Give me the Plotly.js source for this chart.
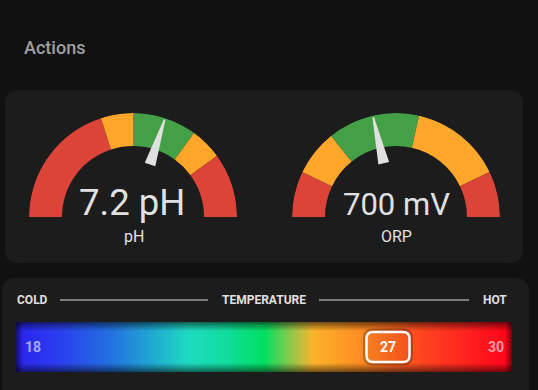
<!DOCTYPE html>
<html>
<head>
<meta charset="utf-8">
<script src="https://cdn.plot.ly/plotly-3.0.1.min.js"></script>
<style>
  html, body { margin: 0; padding: 0; background: #111111; }
  #chart { width: 538px; height: 390px; }
</style>
</head>
<body>
<div id="chart"></div>
<script>
// ---------------- data ----------------
const sectionTitle = 'Actions';

const phStops  = [6.0, 6.8, 7.0, 7.4, 7.6, 8.0];
const phColors = ['#db4437', '#ffa62b', '#43a047', '#ffa62b', '#db4437'];
const phValue  = 7.2;
const phUnit   = 'pH';
const phName   = 'pH';

const orpStops  = [400, 500, 600, 800, 1000, 1100];
const orpColors = ['#db4437', '#ffa62b', '#43a047', '#ffa62b', '#db4437'];
const orpValue  = 700;
const orpUnit   = 'mV';
const orpName   = 'ORP';

const tempMin   = 18;
const tempMax   = 30;
const tempValue = 27;
const tempLabels = ['COLD', 'TEMPERATURE', 'HOT'];
const tempGradPos    = [0, 0.08, 0.19, 0.27, 0.35, 0.42, 0.50, 0.555, 0.60, 0.70, 0.82, 0.92, 1.0];
const tempGradColors = ['#2b22ee', '#2b3cf0', '#2270e0', '#20a6d2', '#1edcc0', '#12dca0', '#00e060',
                        '#90c84a', '#fcb22a', '#ff8a22', '#ff4420', '#ff1e1e', '#ff0018'];

// ---------------- helpers ----------------
const FONT = 'Roboto, "Noto Sans", sans-serif';
const TXT = '#e1e1e1';
const R_OUT = 104, R_IN = 71;

function gaugeTraces(stops, colors, value, polar) {
  const min = stops[0], max = stops[stops.length - 1];
  const toTheta = v => (v - min) / (max - min) * 180;
  const theta = [], width = [], r = [];
  for (let i = 0; i < colors.length; i++) {
    const a = toTheta(stops[i]), b = toTheta(stops[i + 1]);
    theta.push((a + b) / 2); width.push(b - a); r.push(R_OUT - R_IN);
  }
  const t = toTheta(value);
  return [
    { type: 'barpolar', subplot: polar, theta: theta, r: r, width: width, base: R_IN,
      marker: { color: colors, line: { width: 0 } }, hoverinfo: 'skip', showlegend: false },
    { type: 'scatterpolar', subplot: polar, mode: 'lines', fill: 'toself',
      r: [55.4, 102.5, 102.5, 55.4, 55.4], theta: [t - 5.7, t - 0.45, t + 0.45, t + 5.7, t - 5.7],
      fillcolor: '#e0e0e0', line: { width: 0, color: '#e0e0e0' }, hoverinfo: 'skip', showlegend: false }
  ];
}

function polarLayout(cx) {
  return {
    domain: { x: [(cx - R_OUT) / 538, (cx + R_OUT) / 538], y: [(390 - 217) / 390, (390 - 217 + R_OUT) / 390] },
    sector: [0, 180], hole: 0, bgcolor: 'rgba(0,0,0,0)',
    radialaxis: { visible: false, range: [0, R_OUT] },
    angularaxis: { visible: false, rotation: 180, direction: 'clockwise' }
  };
}

function rrect(x0, y0, x1, y1, r) {
  return `M${x0 + r},${y0} L${x1 - r},${y0} Q${x1},${y0} ${x1},${y0 + r} L${x1},${y1 - r} Q${x1},${y1} ${x1 - r},${y1}` +
         ` L${x0 + r},${y1} Q${x0},${y1} ${x0},${y1 - r} L${x0},${y0 + r} Q${x0},${y0} ${x0 + r},${y0} Z`;
}

// ---------------- traces ----------------
const data = [];
data.push({ type: 'scatter', x: [], y: [], xaxis: 'x', yaxis: 'y', hoverinfo: 'skip', showlegend: false });
data.push(...gaugeTraces(phStops, phColors, phValue, 'polar'));
data.push(...gaugeTraces(orpStops, orpColors, orpValue, 'polar2'));

const colorscale = tempGradPos.map((p, i) => [p, tempGradColors[i]]);
data.push({ type: 'scatter', xaxis: 'x2', yaxis: 'y2', mode: 'lines', fill: 'toself',
  x: [tempMin, tempMax, tempMax, tempMin, tempMin], y: [0, 0, 1, 1, 0],
  line: { width: 0 }, fillgradient: { type: 'horizontal', colorscale: colorscale },
  hoverinfo: 'skip', showlegend: false });

// inner shadow of the bar
const span = tempMax - tempMin;
const sh = (x, y, type, cs) => ({ type: 'scatter', xaxis: 'x2', yaxis: 'y2', mode: 'lines', fill: 'toself',
  x: x, y: y, line: { width: 0 }, fillgradient: { type: type, colorscale: cs }, hoverinfo: 'skip', showlegend: false });
const fadeUp = [[0, 'rgba(0,0,0,0)'], [1, 'rgba(0,0,0,0.55)']];
const fadeDown = [[0, 'rgba(0,0,0,0.55)'], [1, 'rgba(0,0,0,0)']];
data.push(sh([tempMin, tempMax, tempMax, tempMin, tempMin], [0.82, 0.82, 1, 1, 0.82], 'vertical', fadeUp));
data.push(sh([tempMin, tempMax, tempMax, tempMin, tempMin], [0, 0, 0.18, 0.18, 0], 'vertical', fadeDown));
data.push(sh([tempMin, tempMin + span * 0.014, tempMin + span * 0.014, tempMin, tempMin], [0, 0, 1, 1, 0], 'horizontal', fadeDown));
data.push(sh([tempMax - span * 0.014, tempMax, tempMax, tempMax - span * 0.014, tempMax - span * 0.014], [0, 0, 1, 1, 0], 'horizontal', fadeUp));

// ---------------- layout ----------------
const ann = (x, y, text, size, color, extra) => Object.assign({
  xref: 'x', yref: 'y', x: x, y: y, text: text, showarrow: false,
  font: { family: FONT, size: size, color: color }, xanchor: 'center', yanchor: 'middle'
}, extra || {});

const layout = {
  width: 538, height: 390,
  margin: { l: 0, r: 0, t: 0, b: 0 },
  paper_bgcolor: '#111111', plot_bgcolor: 'rgba(0,0,0,0)',
  showlegend: false,
  xaxis: { range: [0, 538], visible: false, fixedrange: true, domain: [0, 1] },
  yaxis: { range: [390, 0], visible: false, fixedrange: true, domain: [0, 1] },
  xaxis2: { range: [tempMin, tempMax], visible: false, fixedrange: true, domain: [16 / 538, 512 / 538], anchor: 'y2' },
  yaxis2: { range: [0, 1], visible: false, fixedrange: true, domain: [(390 - 372) / 390, (390 - 322) / 390], anchor: 'x2' },
  polar: polarLayout(133),
  polar2: polarLayout(396),
  shapes: [
    { type: 'path', xref: 'x', yref: 'y', layer: 'below', path: rrect(5, 90, 523, 263, 14), fillcolor: '#1c1c1c', line: { width: 0 } },
    { type: 'path', xref: 'x', yref: 'y', layer: 'below', path: rrect(2, 278, 529, 420, 14), fillcolor: '#1c1c1c', line: { width: 0 } },
    { type: 'line', xref: 'x', yref: 'y', x0: 60, x1: 208, y0: 300, y1: 300, line: { color: '#e0e0e0', width: 1 } },
    { type: 'line', xref: 'x', yref: 'y', x0: 319, x1: 469, y0: 300, y1: 300, line: { color: '#e0e0e0', width: 1 } },
    { type: 'path', xref: 'x2', yref: 'y2', xsizemode: 'pixel', ysizemode: 'pixel', xanchor: tempValue, yanchor: 0.5,
      layer: 'above', path: rrect(-23.5, -17, 23.5, 17, 8), line: { color: 'rgba(0,0,0,0.25)', width: 3 } },
    { type: 'path', xref: 'x2', yref: 'y2', xsizemode: 'pixel', ysizemode: 'pixel', xanchor: tempValue, yanchor: 0.5,
      layer: 'above', path: rrect(-21.5, -15, 21.5, 15, 6.5), fillcolor: 'rgba(0,0,0,0.04)', line: { color: '#ffffff', width: 2.5 } }
  ],
  annotations: [
    ann(22, 47, sectionTitle, 18, '#a0a0a0', { xanchor: 'left', font: { family: FONT, size: 18, color: '#a0a0a0', weight: 500 } }),
    ann(132, 202.5, phValue.toFixed(1) + ' ' + phUnit, 36.5, TXT),
    ann(133.5, 236.5, phName, 16, TXT),
    ann(396, 204.5, String(orpValue) + ' ' + orpUnit, 31, TXT),
    ann(396, 236.5, orpName, 16, TXT),
    ann(32.5, 300, tempLabels[0], 12, '#e0e0e0', { font: { family: FONT, size: 12, color: '#e0e0e0', weight: 'bold' } }),
    ann(264, 300, tempLabels[1], 12, '#e0e0e0', { font: { family: FONT, size: 12, color: '#e0e0e0', weight: 'bold' } }),
    ann(495, 300, tempLabels[2], 12, '#e0e0e0', { font: { family: FONT, size: 12, color: '#e0e0e0', weight: 'bold' } }),
    { xref: 'x2', yref: 'y2', x: tempMin, y: 0.5, xshift: 17, text: String(tempMin), showarrow: false,
      font: { family: FONT, size: 14, color: 'rgba(255,255,255,0.6)', weight: 'bold' } },
    { xref: 'x2', yref: 'y2', x: tempMax, y: 0.5, xshift: -16, text: String(tempMax), showarrow: false,
      font: { family: FONT, size: 14, color: 'rgba(255,255,255,0.6)', weight: 'bold' } },
    { xref: 'x2', yref: 'y2', x: tempValue, y: 0.5, text: String(tempValue), showarrow: false,
      font: { family: FONT, size: 14, color: '#ffffff', weight: 'bold' } }
  ]
};

Plotly.newPlot('chart', data, layout, { displayModeBar: false, staticPlot: true });
</script>
</body>
</html>
